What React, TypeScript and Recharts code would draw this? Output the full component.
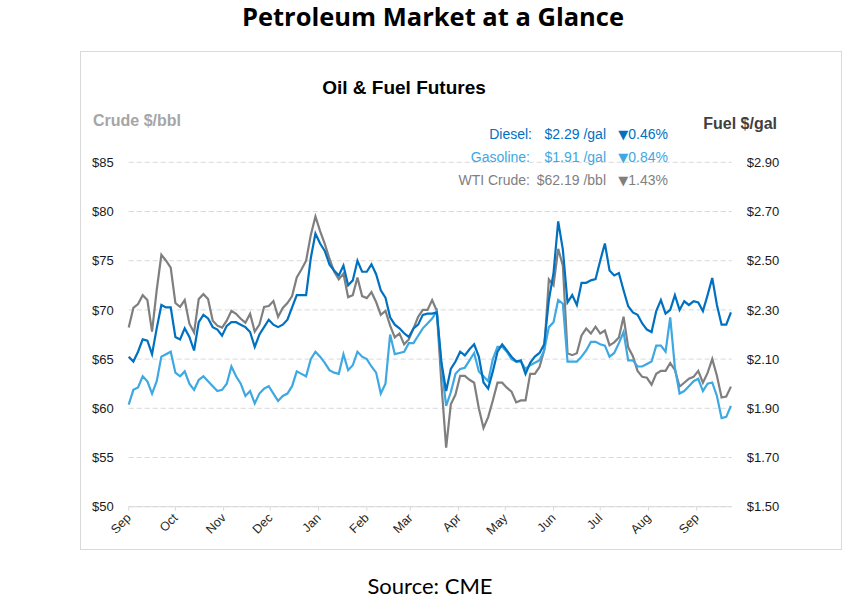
import React from 'react';
import { LineChart, Line, XAxis, YAxis, CartesianGrid } from 'recharts';

// sample day offsets from Sep 1 (every 3 days)
const days = [
  0, 3, 6, 9, 12, 15, 18, 21, 24, 27,
  30, 33, 36, 39, 42, 45, 48, 51, 54, 57,
  60, 63, 66, 69, 72, 75, 78, 81, 84, 87,
  90, 93, 96, 99, 102, 105, 108, 111, 114, 117,
  120, 123, 126, 129, 132, 135, 138, 141, 144, 147,
  150, 153, 156, 159, 162, 165, 168, 171, 174, 177,
  180, 183, 186, 189, 192, 195, 198, 201, 204, 207,
  210, 213, 216, 219, 222, 225, 228, 231, 234, 237,
  240, 243, 246, 249, 252, 255, 258, 261, 264, 267,
  270, 273, 276, 279, 282, 285, 288, 291, 294, 297,
  300, 303, 306, 309, 312, 315, 318, 321, 324, 327,
  330, 333, 336, 339, 342, 345, 348, 351, 354, 357,
  360, 363, 366, 369, 372, 375, 378, 381, 384, 387,
];

// WTI crude, $/bbl
const crude = [
  68.2, 70.2, 70.6, 71.5, 71.0, 67.8, 72.0, 75.6, 75.0, 74.3,
  70.7, 70.3, 71.0, 68.6, 67.7, 71.1, 71.6, 71.1, 68.9, 68.4,
  68.2, 68.9, 69.9, 69.6, 69.1, 68.7, 69.6, 67.8, 68.5, 70.3,
  70.4, 70.9, 69.3, 70.2, 70.7, 71.4, 73.3, 74.1, 75.0, 77.6,
  79.5, 78.0, 76.7, 75.2, 73.9, 73.1, 73.7, 71.3, 71.5, 73.3,
  71.4, 71.2, 71.8, 70.8, 69.5, 69.9, 68.4, 67.2, 67.6, 66.5,
  67.0, 68.1, 69.3, 70.0, 70.0, 71.0, 69.9, 62.4, 56.0, 60.4,
  61.4, 63.3, 63.3, 62.9, 62.6, 60.0, 58.0, 59.1, 60.8, 62.6,
  62.6, 62.1, 61.7, 60.6, 60.8, 60.8, 63.5, 63.5, 64.2, 65.9,
  73.1, 72.5, 76.2, 74.5, 65.6, 65.4, 65.6, 67.4, 68.1, 67.6,
  68.3, 67.6, 67.9, 66.4, 66.7, 67.2, 69.3, 66.2, 65.3, 63.8,
  63.2, 63.1, 62.4, 63.5, 63.8, 63.8, 64.6, 63.9, 62.2, 62.6,
  63.0, 63.2, 63.8, 62.6, 63.6, 65.0, 63.3, 61.1, 61.2, 62.2,
];

// diesel, $/gal
const diesel = [
  2.11, 2.09, 2.13, 2.18, 2.175, 2.12, 2.225, 2.32, 2.31, 2.31,
  2.19, 2.18, 2.225, 2.19, 2.135, 2.25, 2.28, 2.265, 2.23, 2.22,
  2.195, 2.235, 2.25, 2.25, 2.24, 2.23, 2.21, 2.15, 2.2, 2.23,
  2.26, 2.24, 2.23, 2.24, 2.26, 2.31, 2.36, 2.36, 2.36, 2.51,
  2.61, 2.57, 2.54, 2.485, 2.46, 2.44, 2.48, 2.4, 2.42, 2.5,
  2.455, 2.455, 2.485, 2.445, 2.38, 2.35, 2.27, 2.24, 2.225, 2.205,
  2.19, 2.225, 2.24, 2.28, 2.285, 2.285, 2.29, 2.085, 1.97, 2.06,
  2.09, 2.13, 2.115, 2.14, 2.16, 2.11, 2.005, 1.98, 2.05, 2.13,
  2.16, 2.135, 2.11, 2.09, 2.095, 2.04, 2.085, 2.11, 2.125, 2.16,
  2.34, 2.45, 2.66, 2.545, 2.33, 2.36, 2.32, 2.41, 2.41, 2.42,
  2.425, 2.5, 2.57, 2.46, 2.44, 2.45, 2.38, 2.315, 2.29, 2.28,
  2.245, 2.22, 2.21, 2.295, 2.34, 2.285, 2.3, 2.36, 2.3, 2.335,
  2.32, 2.335, 2.33, 2.295, 2.36, 2.43, 2.32, 2.24, 2.24, 2.29,
];

// gasoline, $/gal
const gasoline = [
  1.915, 1.975, 1.985, 2.03, 2.01, 1.96, 2.01, 2.11, 2.12, 2.13,
  2.045, 2.03, 2.05, 2.0, 1.975, 2.015, 2.03, 2.01, 1.99, 1.97,
  1.975, 2.0, 2.07, 2.03, 2.0, 1.95, 1.97, 1.92, 1.96, 1.98,
  1.99, 1.96, 1.93, 1.95, 1.96, 1.99, 2.05, 2.04, 2.03, 2.1,
  2.13, 2.11, 2.085, 2.055, 2.045, 2.04, 2.12, 2.055, 2.075, 2.13,
  2.11, 2.1, 2.07, 2.045, 1.96, 2.0, 2.2, 2.12, 2.125, 2.13,
  2.165, 2.165, 2.195, 2.225, 2.245, 2.265, 2.295, 2.07, 1.91, 1.965,
  2.04, 2.06, 2.065, 2.095, 2.125, 2.05, 2.03, 2.01, 2.1, 2.15,
  2.15, 2.13, 2.1, 2.09, 2.09, 2.06, 2.075, 2.085, 2.095, 2.135,
  2.23, 2.25, 2.34, 2.325, 2.09, 2.09, 2.09, 2.11, 2.135, 2.17,
  2.17, 2.16, 2.155, 2.11, 2.125, 2.165, 2.21, 2.095, 2.095, 2.07,
  2.07, 2.08, 2.09, 2.155, 2.155, 2.13, 2.27, 2.065, 1.96, 1.97,
  1.99, 2.01, 2.02, 1.97, 2.0, 2.005, 1.95, 1.86, 1.865, 1.91,
];

const monthTicks = [0, 30, 61, 91, 122, 153, 181, 212, 242, 273, 303, 334, 365];
const monthLabels = ['Sep', 'Oct', 'Nov', 'Dec', 'Jan', 'Feb', 'Mar', 'Apr', 'May', 'Jun', 'Jul', 'Aug', 'Sep'];
const crudeTicks = [50, 55, 60, 65, 70, 75, 80, 85];
const fuelTicks = [1.5, 1.7, 1.9, 2.1, 2.3, 2.5, 2.7, 2.9];

const DIESEL = '#0070c0';
const GAS = '#3ea8e2';
const CRUDE = '#7f7f7f';
const FONT = '"Liberation Sans", Arial, sans-serif';

const data = days.map((d, i) => ({ day: d, crude: crude[i], diesel: diesel[i], gasoline: gasoline[i] }));

const MonthTick = (props: any) => {
  const { x, y, payload } = props;
  const idx = monthTicks.indexOf(payload.value);
  return (
    <text
      transform={`translate(${x + 3},${y + 6}) rotate(-45)`}
      textAnchor="end"
      fontSize={12.5}
      fill="#262626"
      fontFamily={FONT}
    >
      {monthLabels[idx]}
    </text>
  );
};

// one legend row: label, price, down-arrow change
const LegendRow = ({ y, label, labelX, price, change, color }: any) => (
  <g fontFamily={FONT} fontSize={14} fill={color}>
    <text x={labelX} y={y} textAnchor="end">{label}</text>
    <text x={606} y={y} textAnchor="end">{price}</text>
    <text x={668} y={y} textAnchor="end">
      <tspan fontFamily="DejaVu Sans" fontSize={13}>▼</tspan>
      {change}
    </text>
  </g>
);

const App = () => {
  return (
    <div style={{ position: 'absolute', left: 0, top: 0, width: 867, height: 607, background: '#fff' }}>
      <div
        style={{
          position: 'absolute',
          left: 80,
          top: 51,
          width: 760,
          height: 497,
          border: '1px solid #d9d9d9',
        }}
      />
      <div style={{ position: 'absolute', left: 0, top: 0 }}>
        <LineChart width={867} height={607} data={data} margin={{ top: 162.3, right: 0, bottom: 60.3, left: 0 }}>
          <CartesianGrid yAxisId="left" vertical={false} stroke="#d9d9d9" strokeDasharray="5 3" />
          <XAxis
            dataKey="day"
            type="number"
            domain={[0, 387.5]}
            ticks={monthTicks}
            interval={0}
            height={40}
            tick={<MonthTick />}
            axisLine={{ stroke: '#d9d9d9' }}
            tickLine={{ stroke: '#d9d9d9' }}
            tickSize={4}
            tickMargin={2}
          />
          <YAxis
            yAxisId="left"
            domain={[50, 85]}
            ticks={crudeTicks}
            width={128.7}
            axisLine={false}
            tickLine={false}
            tickSize={0}
            tickMargin={15}
            tickFormatter={(v: number) => `$${v}`}
            tick={{ fontSize: 13, fill: '#1a1a1a', fontFamily: FONT }}
          />
          <YAxis
            yAxisId="right"
            orientation="right"
            domain={[1.5, 2.9]}
            ticks={fuelTicks}
            width={135.3}
            axisLine={false}
            tickLine={false}
            tickSize={0}
            tickMargin={15}
            tickFormatter={(v: number) => `$${v.toFixed(2)}`}
            tick={{ fontSize: 13, fill: '#1a1a1a', fontFamily: FONT }}
          />
          <Line yAxisId="left" dataKey="crude" stroke={CRUDE} strokeWidth={2.2} dot={false} type="linear" isAnimationActive={false} />
          <Line yAxisId="right" dataKey="gasoline" stroke={GAS} strokeWidth={2.2} dot={false} type="linear" isAnimationActive={false} />
          <Line yAxisId="right" dataKey="diesel" stroke={DIESEL} strokeWidth={2.2} dot={false} type="linear" isAnimationActive={false} />
        </LineChart>
      </div>
      <svg width={867} height={607} style={{ position: 'absolute', left: 0, top: 0, pointerEvents: 'none' }}>
        <text x={433} y={26} textAnchor="middle" fontFamily='"Open Sans", sans-serif' fontWeight="bold" fontSize={25.5} fill="#000">
          Petroleum Market at a Glance
        </text>
        <text x={404} y={94} textAnchor="middle" fontFamily={FONT} fontWeight="bold" fontSize={19} fill="#000">
          Oil &amp; Fuel Futures
        </text>
        <text x={93} y={126} fontFamily={FONT} fontWeight="bold" fontSize={16} fill="#a6a6a6">
          Crude $/bbl
        </text>
        <text x={777} y={129} textAnchor="end" fontFamily={FONT} fontWeight="bold" fontSize={16} fill="#404040">
          Fuel $/gal
        </text>
        <LegendRow y={139} label="Diesel:" labelX={532} price="$2.29 /gal" change="0.46%" color={DIESEL} />
        <LegendRow y={162} label="Gasoline:" labelX={530} price="$1.91 /gal" change="0.84%" color={GAS} />
        <LegendRow y={185} label="WTI Crude:" labelX={530} price="$62.19 /bbl" change="1.43%" color={CRUDE} />
        <text x={430} y={594} textAnchor="middle" fontFamily="Lato, sans-serif" fontSize={22} fill="#000">
          Source: CME
        </text>
      </svg>
    </div>
  );
};

export default App;
